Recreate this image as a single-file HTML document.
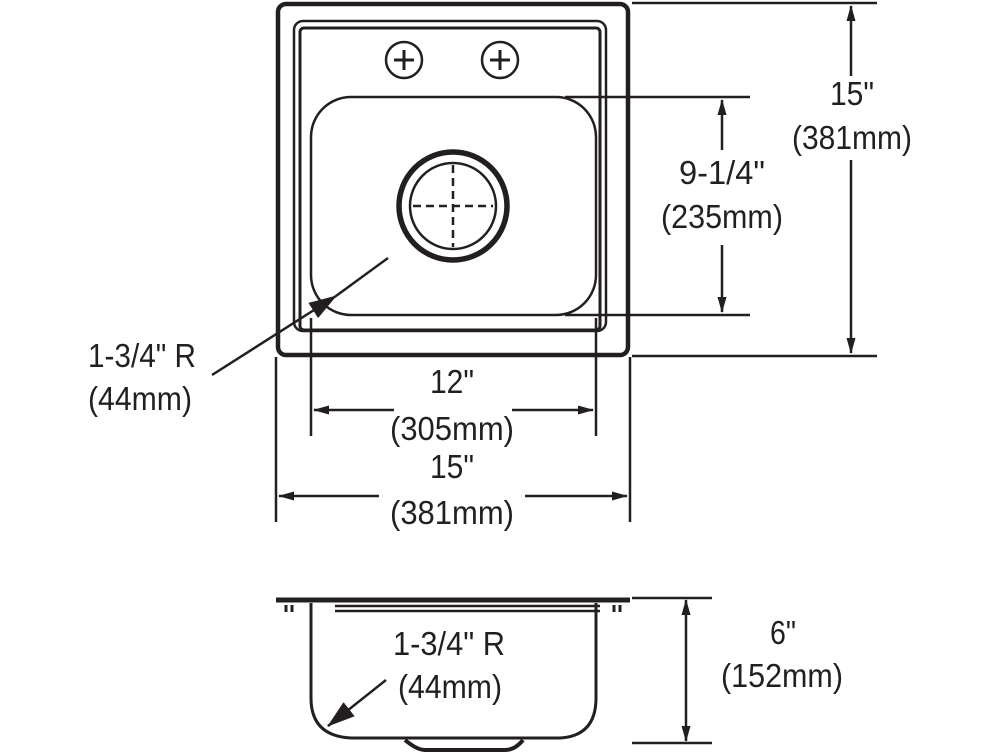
<!DOCTYPE html>
<html><head><meta charset="utf-8"><style>
html,body{margin:0;padding:0;background:#fff;}
svg{display:block}
text{font-family:"Liberation Sans",Arial,sans-serif;font-size:33px;fill:#231f20;text-anchor:middle}
</style></head><body>
<svg width="1000" height="753" viewBox="0 0 1000 753" xmlns="http://www.w3.org/2000/svg">
<defs>
<marker id="a" markerWidth="16" markerHeight="10" refX="15" refY="5" orient="auto-start-reverse" markerUnits="userSpaceOnUse">
<path d="M0,0.5 L16,5 L0,9.5 Z" fill="#231f20"/></marker>
<marker id="b" markerWidth="28" markerHeight="22" refX="27" refY="11" orient="auto" markerUnits="userSpaceOnUse">
<path d="M0,2 L28,11 L0,20 Z" fill="#231f20"/></marker>
</defs>
<g fill="none" stroke="#231f20">
<!-- top view -->
<rect x="278" y="4" width="350" height="351" rx="8" stroke-width="4.5"/>
<rect x="294" y="21" width="312" height="310" rx="9" stroke-width="2.5"/>
<rect x="300" y="28" width="300" height="302" rx="4" stroke-width="3"/>
<rect x="311" y="97" width="285" height="218" rx="40" stroke-width="2.5"/>
<circle cx="404" cy="60" r="18" stroke-width="2.5"/>
<path d="M394,60h20M404,50v20" stroke-width="3"/>
<circle cx="500" cy="60" r="18" stroke-width="2.5"/>
<path d="M490,60h20M500,50v20" stroke-width="3"/>
<circle cx="453" cy="206" r="54" stroke-width="5.5"/>
<circle cx="453" cy="206" r="43" stroke-width="2.5"/>
<path d="M413,206h80M453,165v82" stroke-width="2.5" stroke-dasharray="8,5"/>
<!-- right 15 -->
<path d="M632,3h245M632,356h245" stroke-width="2.5"/>
<path d="M851,6v70" stroke-width="2.5" marker-start="url(#a)"/>
<path d="M851,160v193" stroke-width="2.5" marker-end="url(#a)"/>
<!-- 9-1/4 -->
<path d="M565,97h185M565,315h185" stroke-width="2.5"/>
<path d="M722,100v50" stroke-width="2.5" marker-start="url(#a)"/>
<path d="M722,245v67" stroke-width="2.5" marker-end="url(#a)"/>
<!-- 12 -->
<path d="M311,318v118M596,318v118" stroke-width="2.5"/>
<path d="M314,410h80" stroke-width="2.5" marker-start="url(#a)"/>
<path d="M512,410h81" stroke-width="2.5" marker-end="url(#a)"/>
<!-- 15 bottom -->
<path d="M276,357v165M630,357v165" stroke-width="2.5"/>
<path d="M279,496h100" stroke-width="2.5" marker-start="url(#a)"/>
<path d="M525,496h102" stroke-width="2.5" marker-end="url(#a)"/>
<!-- leader -->
<path d="M212,375L336,296" stroke-width="2.5" marker-end="url(#b)"/>
<path d="M336,296L388,258" stroke-width="2.5"/>
<!-- side view -->
<path d="M276,600h354" stroke-width="5"/>
<path d="M335,606h265" stroke-width="2.5"/>
<path d="M335,611h265" stroke-width="2.5"/>
<path d="M286,605v7M292,605v7M614,605v7M620,605v7" stroke-width="3"/>
<path d="M311,603v95q0,38,40,40L560,738q36,-2,36,-40v-95" stroke-width="3"/>
<path d="M405,740q12,10,20,10h80q10,0,18,-10" stroke-width="4"/>
<path d="M632,598h80M632,743h80" stroke-width="2.5"/>
<path d="M686,600v141" stroke-width="2.5" marker-start="url(#a)" marker-end="url(#a)"/>
<path d="M386,680L328,726" stroke-width="2.5" marker-end="url(#b)"/>
</g>
<text x="852" y="105" textLength="44" lengthAdjust="spacingAndGlyphs">15"</text>
<text x="852" y="149" textLength="120" lengthAdjust="spacingAndGlyphs">(381mm)</text>
<text x="722" y="184" textLength="86" lengthAdjust="spacingAndGlyphs">9-1/4"</text>
<text x="722" y="228" textLength="122" lengthAdjust="spacingAndGlyphs">(235mm)</text>
<text x="452" y="393" textLength="44" lengthAdjust="spacingAndGlyphs">12"</text>
<text x="452" y="440" textLength="124" lengthAdjust="spacingAndGlyphs">(305mm)</text>
<text x="452" y="478" textLength="44" lengthAdjust="spacingAndGlyphs">15"</text>
<text x="452" y="524" textLength="124" lengthAdjust="spacingAndGlyphs">(381mm)</text>
<text x="142" y="367" textLength="108" lengthAdjust="spacingAndGlyphs">1-3/4" R</text>
<text x="140" y="410" textLength="104" lengthAdjust="spacingAndGlyphs">(44mm)</text>
<text x="449" y="655" textLength="112" lengthAdjust="spacingAndGlyphs">1-3/4" R</text>
<text x="450" y="698" textLength="104" lengthAdjust="spacingAndGlyphs">(44mm)</text>
<text x="783" y="644" textLength="26" lengthAdjust="spacingAndGlyphs">6"</text>
<text x="782" y="687" textLength="122" lengthAdjust="spacingAndGlyphs">(152mm)</text>
</svg>
</body></html>
